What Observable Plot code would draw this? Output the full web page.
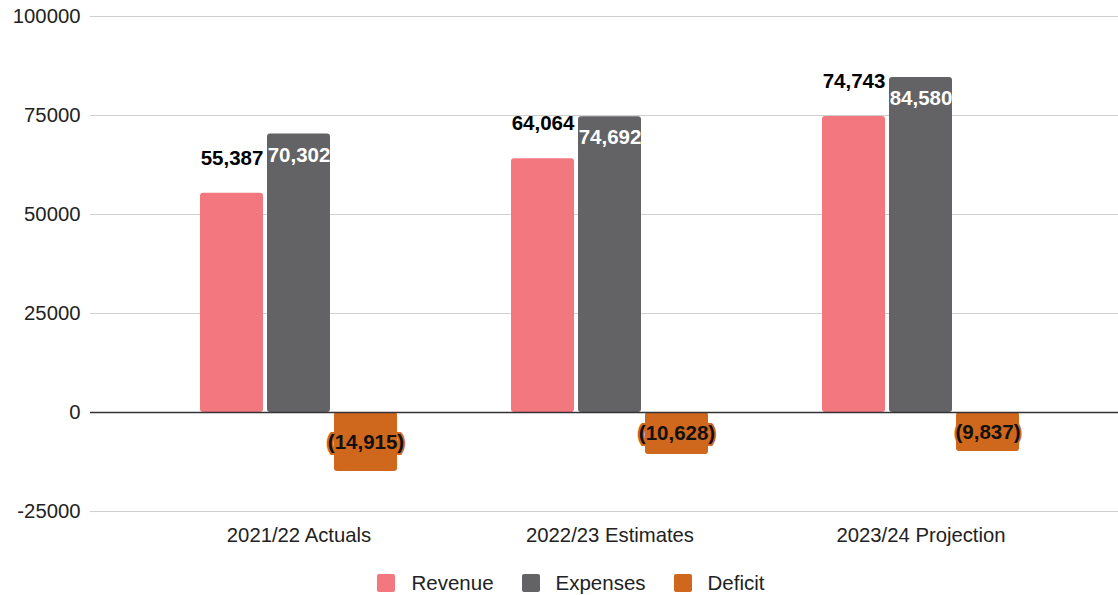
<!DOCTYPE html>
<html>
<head>
<meta charset="utf-8">
<script src="https://cdn.jsdelivr.net/npm/d3@7"></script>
<script src="https://cdn.jsdelivr.net/npm/@observablehq/plot@0.6"></script>
<style>
  html, body { margin: 0; padding: 0; background: #fff; }
  body { width: 1118px; height: 595px; overflow: hidden; font-family: "Liberation Sans", Arial, sans-serif; }
  #legend { display: flex; justify-content: center; align-items: center; height: 20px; margin-top: 18px; padding-left: 24px; font-size: 20.5px; color: #222; }
  .item { display: flex; align-items: center; margin: 0 14px; }
  .sw { width: 18px; height: 18px; border-radius: 2px; margin-right: 16px; }
</style>
</head>
<body>
<div id="chart"></div>
<div id="legend"></div>
<script>
const categories = ["2021/22 Actuals", "2022/23 Estimates", "2023/24 Projection"];
const seriesNames = ["Revenue", "Expenses", "Deficit"];
const revenue = [55387, 64064, 74743];
const expenses = [70302, 74692, 84580];
const deficit = [-14915, -10628, -9837];
const yTicks = [-25000, 0, 25000, 50000, 75000, 100000];
const colors = ["#f3777f", "#636365", "#cf671c"];

const fmt = d3.format(",");
const lab = v => v < 0 ? `(${fmt(-v)})` : fmt(v);

const chart = Plot.plot({
  width: 1118,
  height: 555,
  marginLeft: 90,
  marginRight: 0,
  marginTop: 16,
  marginBottom: 44,
  style: { fontFamily: "Liberation Sans, Arial, sans-serif", fontSize: "20.3px", color: "#222", background: "#fff" },
  x: { domain: categories, range: [143, 1076], padding: 0, tickSize: 0, tickPadding: 16, label: null },
  y: { domain: [-25000, 100000], ticks: yTicks, tickFormat: d => String(d), tickSize: 0, tickPadding: 10, label: null },
  marks: [
    Plot.ruleY(yTicks.filter(d => d !== 0), { stroke: "#cfcfcf", strokeWidth: 1.2 }),
    Plot.barY(categories, { x: d => d, y: (d, i) => revenue[i], fill: colors[0], insetLeft: 57, insetRight: 191, rx: 3 }),
    Plot.barY(categories, { x: d => d, y: (d, i) => expenses[i], fill: colors[1], insetLeft: 124, insetRight: 124, rx: 3 }),
    Plot.barY(categories, { x: d => d, y: (d, i) => deficit[i], fill: colors[2], insetLeft: 191, insetRight: 57, rx: 3 }),
    Plot.ruleY([0], { stroke: "#333", strokeWidth: 1.5 }),
    Plot.text(categories, { x: d => d, y: (d, i) => revenue[i], text: (d, i) => lab(revenue[i]), dx: -67, dy: -35, fill: "#000", fontWeight: "bold", fontSize: 20.5 }),
    Plot.text(categories, { x: d => d, y: (d, i) => expenses[i], text: (d, i) => lab(expenses[i]), dx: 0, dy: 21, fill: "#fff", fontWeight: "bold", fontSize: 20.5 }),
    Plot.text(categories, { x: d => d, y: (d, i) => deficit[i] / 2, text: (d, i) => lab(deficit[i]), dx: 67, fill: "#111", stroke: colors[2], strokeWidth: 4, fontWeight: "bold", fontSize: 20.5 })
  ]
});
document.getElementById("chart").appendChild(chart);

const legend = document.getElementById("legend");
seriesNames.forEach((name, i) => {
  const it = document.createElement("div");
  it.className = "item";
  const sw = document.createElement("div");
  sw.className = "sw";
  sw.style.background = colors[i];
  const t = document.createElement("span");
  t.textContent = name;
  it.appendChild(sw);
  it.appendChild(t);
  legend.appendChild(it);
});
</script>
</body>
</html>
